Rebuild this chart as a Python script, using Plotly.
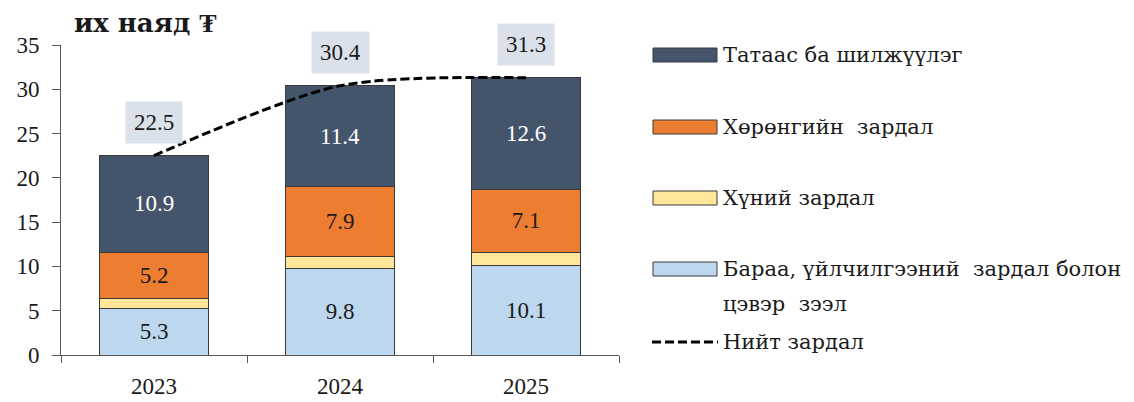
import plotly.graph_objects as go

years = ["2023", "2024", "2025"]
goods = [5.3, 9.8, 10.1]
human = [1.1, 1.3, 1.5]
capital = [5.2, 7.9, 7.1]
transfers = [10.9, 11.4, 12.6]
total = [22.5, 30.4, 31.3]

series_names = [
    "Татаас ба шилжүүлэг",
    "Хөрөнгийн  зардал",
    "Хүний зардал",
    "Бараа, үйлчилгээний  зардал болон",
]
goods_name_line2 = "цэвэр  зээл"
total_name = "Нийт зардал"
unit_title = "их наяд ₮"

FONT = "Liberation Serif, DejaVu Serif, serif"
FONT_CYR = "DejaVu Serif, Liberation Serif, serif"
TXT = "#1a1a1a"

# page has an 8px body margin; figure shifted accordingly
OFF = 8
W, H = 1134 - OFF, 402 - OFF
# plot area in reference-pixel terms: x 61..619, y 45..355
PL, PR, PT, PB = 61 - OFF, 619 - OFF, 45 - OFF, 355 - OFF
L, R, T, B = PL, W - PR, PT, H - PB
PW, PH = PR - PL, PB - PT

colors = {"goods": "#bdd7ee", "human": "#ffe699", "capital": "#ed7d31", "transfers": "#44546a"}
EDGE = "#3a3a3a"

fig = go.Figure()

def bar(vals, color, show_text, tcolor):
    return go.Bar(
        x=years, y=vals,
        marker=dict(color=color, line=dict(color=EDGE, width=1)),
        text=[f"{v:.1f}" for v in vals] if show_text else None,
        textposition="inside", insidetextanchor="middle",
        textfont=dict(family=FONT, size=23, color=tcolor),
        showlegend=False, hoverinfo="skip",
    )

fig.add_trace(bar(goods, colors["goods"], True, TXT))
fig.add_trace(bar(human, colors["human"], False, TXT))
fig.add_trace(bar(capital, colors["capital"], True, TXT))
fig.add_trace(bar(transfers, colors["transfers"], True, "#ffffff"))

fig.add_trace(go.Scatter(
    x=years, y=total, mode="lines",
    line=dict(color="black", width=3, dash="9px,4px", shape="spline", smoothing=0.8),
    showlegend=False, hoverinfo="skip",
))

# category index of each year (annotations on a category axis with numeric-looking names)
for i, v in enumerate(total):
    fig.add_annotation(
        x=i, y=v, yshift=33, text=f"{v:.1f}", showarrow=False,
        font=dict(family=FONT, size=23, color=TXT),
        bgcolor="#dbe1ea", borderpad=8,
    )

def px_x(ref_px):
    return (ref_px - OFF - PL) / PW

def px_y(ref_py):
    return (PB - (ref_py - OFF)) / PH

fig.add_annotation(
    x=px_x(72), y=px_y(23), xref="paper", yref="paper", xanchor="left", yanchor="middle",
    text=f"<b>{unit_title}</b>", showarrow=False,
    font=dict(family=FONT_CYR, size=26, color=TXT),
)

# legend (manual)
legend_rows = [
    (series_names[0], colors["transfers"], 55),
    (series_names[1], colors["capital"], 127),
    (series_names[2], colors["human"], 198),
    (series_names[3], colors["goods"], 269),
]
LEG_FS = 21
for name, col, cy in legend_rows:
    fig.add_shape(
        type="rect", xref="paper", yref="paper",
        x0=px_x(653), x1=px_x(717), y0=px_y(cy + 7), y1=px_y(cy - 7),
        fillcolor=col, line=dict(color=EDGE, width=1),
    )
    fig.add_annotation(
        x=px_x(721), y=px_y(cy), xref="paper", yref="paper", xanchor="left", yanchor="middle",
        text=name, showarrow=False, font=dict(family=FONT_CYR, size=LEG_FS, color=TXT),
    )
fig.add_annotation(
    x=px_x(721), y=px_y(304), xref="paper", yref="paper", xanchor="left", yanchor="middle",
    text=goods_name_line2, showarrow=False, font=dict(family=FONT_CYR, size=LEG_FS, color=TXT),
)
fig.add_shape(
    type="line", xref="paper", yref="paper",
    x0=px_x(652), x1=px_x(718), y0=px_y(342), y1=px_y(342),
    line=dict(color="black", width=3, dash="9px,4px"),
)
fig.add_annotation(
    x=px_x(721), y=px_y(342), xref="paper", yref="paper", xanchor="left", yanchor="middle",
    text=total_name, showarrow=False, font=dict(family=FONT_CYR, size=LEG_FS, color=TXT),
)

fig.update_layout(
    width=W, height=H,
    margin=dict(l=L, r=R, t=T, b=B, pad=0, autoexpand=False),
    barmode="stack", bargap=0.41,
    plot_bgcolor="white", paper_bgcolor="white",
    font=dict(family=FONT, size=23, color=TXT),
)
fig.update_xaxes(
    type="category", categoryorder="array", categoryarray=years,
    range=[-0.5, len(years) - 0.5], automargin=False,
    showline=True, linecolor="#595959", linewidth=1,
    ticks="outside", tickson="boundaries", ticklen=7, tickcolor="#595959",
    ticklabelstandoff=10,
    tickfont=dict(family=FONT, size=23, color=TXT), showgrid=False,
)
fig.update_yaxes(
    range=[0, 35], dtick=5, automargin=False,
    showline=True, linecolor="#595959", linewidth=1,
    ticks="outside", ticklen=8, tickcolor="#595959",
    ticklabelstandoff=8,
    tickfont=dict(family=FONT, size=23, color=TXT), showgrid=False, zeroline=False,
)

fig.write_html("out.html")
